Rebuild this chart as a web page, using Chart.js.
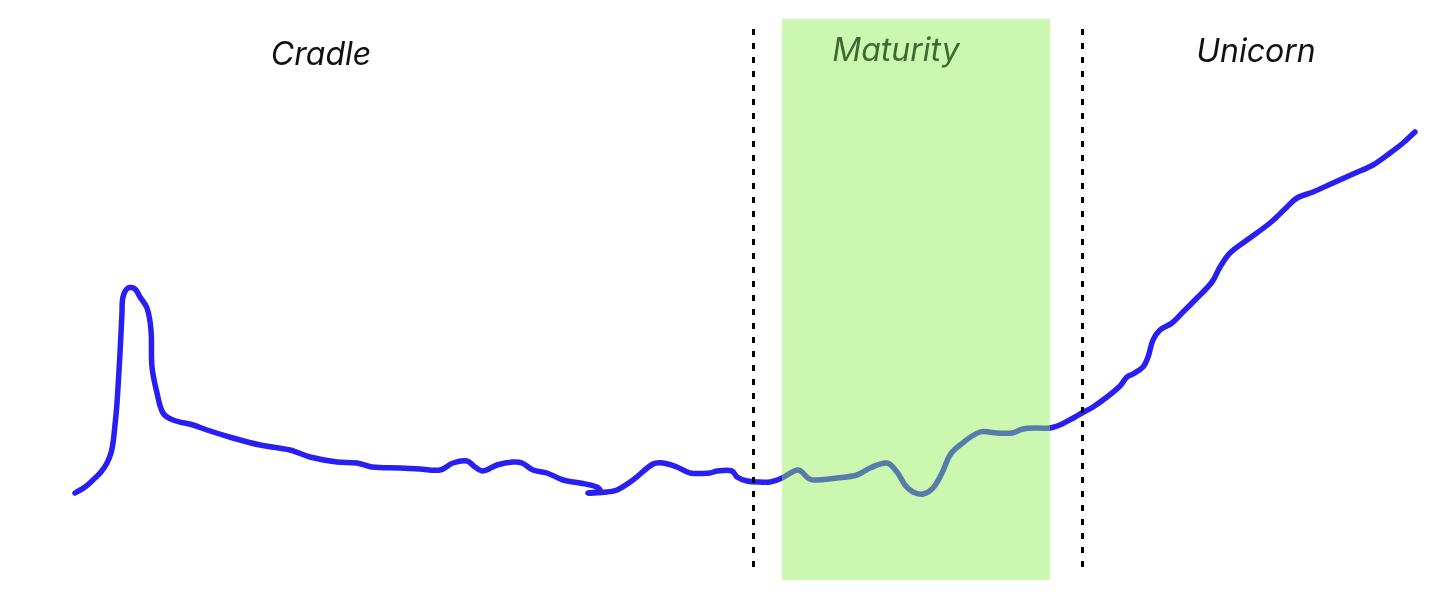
<!DOCTYPE html>
<html>
<head>
<meta charset="utf-8">
<script src="https://cdn.jsdelivr.net/npm/chart.js@4/dist/chart.umd.min.js"></script>
<style>
  html, body { margin: 0; padding: 0; background: #fff; }
  #wrap { width: 1456px; height: 603px; }
</style>
</head>
<body>
<div id="wrap"><canvas id="grafico" width="1456" height="603"></canvas></div>
<script>
// Curva desenhada à mão (x da esquerda p/ direita, y = altura acima da base)
const curvaX = [75, 85, 93, 101, 107, 111, 113, 115, 117, 120, 122, 123, 128, 135, 140, 147, 151, 152, 157, 163,
  173, 193, 207, 233, 260, 290, 310, 337, 357, 372, 400, 420, 440, 453, 467, 475, 483, 497, 513, 522,
  533, 547, 563, 580, 597, 600, 588, 607, 617, 633, 653, 663, 677, 690, 710, 717, 732, 737, 747, 760,
  770, 782, 798, 808, 813, 837, 857, 870, 887, 897, 905, 913, 923, 933, 942, 950, 960, 980, 997, 1012,
  1023, 1037, 1050, 1062, 1075, 1082, 1093, 1107, 1120, 1127, 1133, 1143, 1148, 1153, 1160, 1172, 1183, 1197, 1212, 1220,
  1230, 1247, 1270, 1287, 1297, 1313, 1333, 1353, 1373, 1390, 1403, 1415];
const curvaY = [110, 116, 123, 131, 140, 150, 160, 178, 200, 250, 290, 306, 315, 314, 306, 295, 273, 236, 210, 190,
  183, 178, 173, 165, 158, 153, 146, 141, 140, 136, 135, 134, 133, 140, 142, 136, 132, 138, 141, 140,
  133, 130, 123, 120, 116, 112, 110, 111, 113, 123, 139, 140, 136, 130, 130, 132, 132, 126, 122, 121,
  121, 125, 133, 125, 123, 125, 128, 135, 140, 131, 118, 111, 109, 115, 130, 148, 158, 171, 170, 170,
  174, 175, 175, 179, 186, 190, 196, 206, 217, 226, 229, 236, 246, 263, 273, 280, 291, 305, 321, 336,
  350, 363, 380, 396, 405, 411, 420, 429, 438, 450, 460, 471];

// Fases
const fases = ['Cradle', 'Maturity', 'Unicorn'];
const faseX = [321, 896, 1256];
const faseBase = [538, 542, 541];
const maturidadeInicio = 782;
const maturidadeFim = 1050;
const divisorias = [753, 1082];

const pontos = curvaX.map(function(x, i) { return { x: x, y: curvaY[i] }; });

const fasesPlugin = {
    id: 'fases',
    afterDatasetsDraw: function(chart) {
        const ctx = chart.ctx;
        const sx = chart.scales.x;
        const sy = chart.scales.y;
        ctx.save();
        // faixa verde por cima da linha (translúcida)
        ctx.fillStyle = 'rgba(142, 238, 80, 0.45)';
        const x0 = sx.getPixelForValue(maturidadeInicio);
        const x1 = sx.getPixelForValue(maturidadeFim);
        const yTop = sy.getPixelForValue(584);
        const yBot = sy.getPixelForValue(23);
        ctx.fillRect(x0, yTop, x1 - x0, yBot - yTop);

        // linhas pontilhadas
        ctx.strokeStyle = '#000';
        ctx.lineWidth = 3;
        ctx.setLineDash([6, 8]);
        divisorias.forEach(function(v) {
            const px = Math.round(sx.getPixelForValue(v)) + 0.5;
            ctx.beginPath();
            ctx.moveTo(px, sy.getPixelForValue(574));
            ctx.lineTo(px, sy.getPixelForValue(30));
            ctx.stroke();
        });
        ctx.setLineDash([]);

        // rótulos
        ctx.font = 'italic 32px Inter, "Noto Sans", sans-serif';
        ctx.textAlign = 'center';
        ctx.textBaseline = 'alphabetic';
        fases.forEach(function(nome, i) {
            ctx.fillStyle = nome === 'Maturity' ? '#3e6b2d' : '#111';
            ctx.fillText(nome, sx.getPixelForValue(faseX[i]), sy.getPixelForValue(faseBase[i]));
        });
        ctx.restore();
    }
};

new Chart(document.getElementById('grafico').getContext('2d'), {
    type: 'line',
    data: {
        datasets: [{
            data: pontos,
            borderColor: '#2a1ff2',
            borderWidth: 5.5,
            borderCapStyle: 'round',
            borderJoinStyle: 'round',
            pointRadius: 0,
            fill: false,
            tension: 0.35
        }]
    },
    options: {
        responsive: false,
        animation: false,
        layout: { padding: 0 },
        plugins: {
            legend: { display: false },
            tooltip: { enabled: false }
        },
        scales: {
            x: { type: 'linear', min: 0, max: 1456, display: false },
            y: { type: 'linear', min: 0, max: 603, display: false }
        }
    },
    plugins: [fasesPlugin]
});
</script>
</body>
</html>
